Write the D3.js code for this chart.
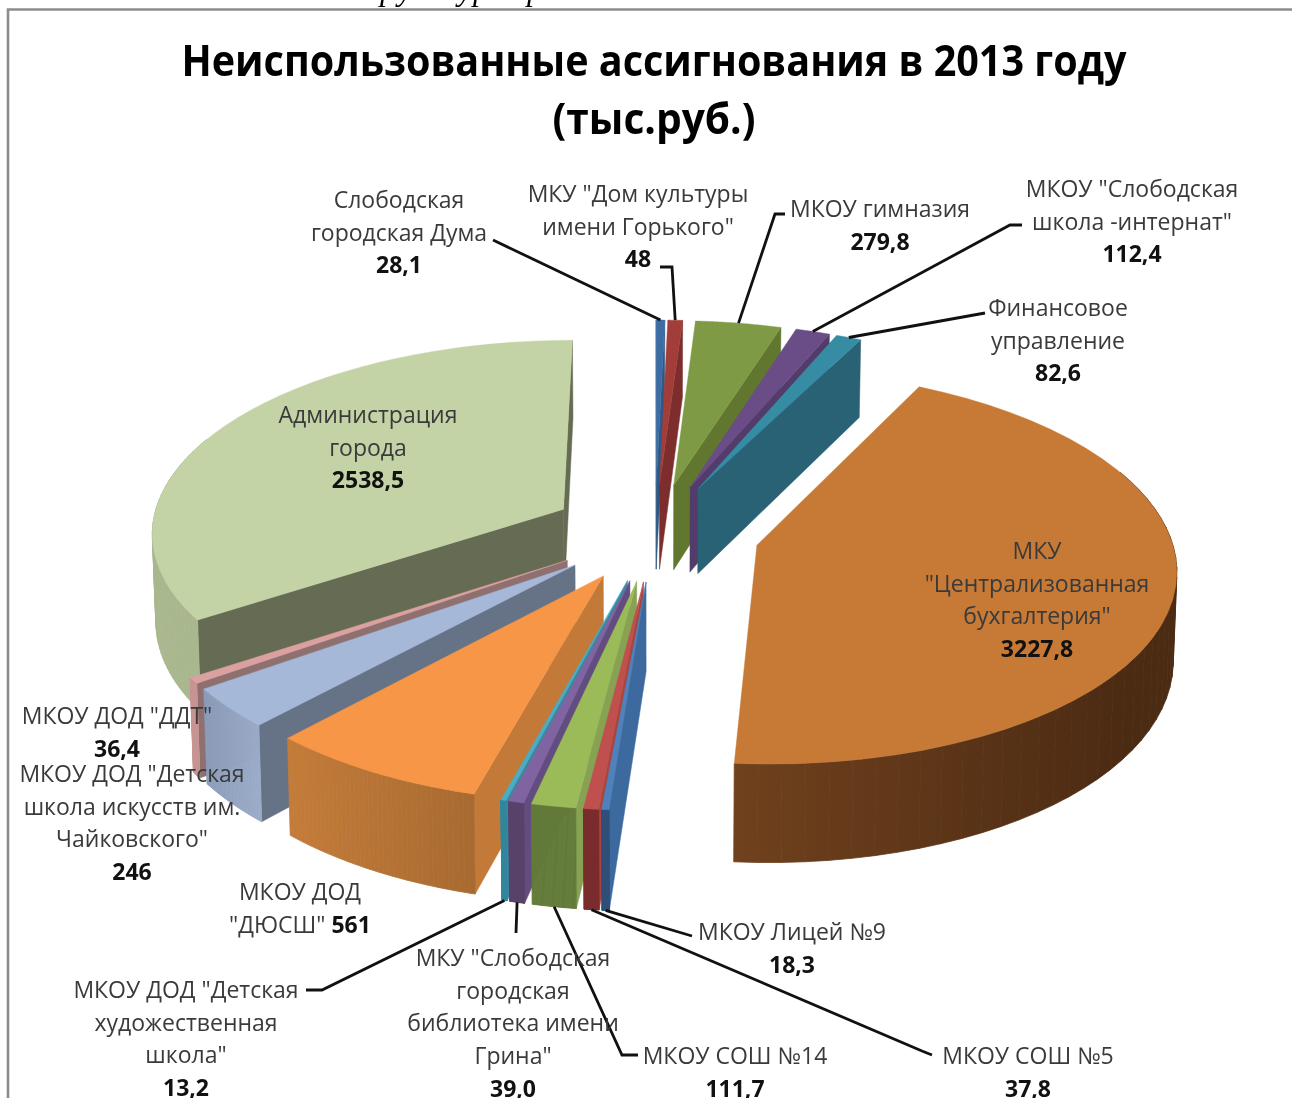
<!DOCTYPE html>
<html>
<head>
<meta charset="utf-8">
<script src="https://cdn.jsdelivr.net/npm/d3@7"></script>
<style>
  html, body { margin: 0; padding: 0; background: #fff; }
  svg { display: block; filter: blur(0.6px); }
  text { font-family: "Open Sans", sans-serif; }
</style>
</head>
<body>
<svg id="chart" width="1292" height="1098"></svg>
<script>
// *** Data ***

var titleLines = ["Неиспользованные ассигнования в 2013 году", "(тыс.руб.)"];
var titleWidths = [945, 203];

var nameLines = [
  ["Слободская", "городская Дума"],
  ["МКУ \"Дом культуры", "имени Горького\""],
  ["МКОУ гимназия"],
  ["МКОУ \"Слободская", "школа -интернат\""],
  ["Финансовое", "управление"],
  ["МКУ", "\"Централизованная", "бухгалтерия\""],
  ["МКОУ Лицей №9"],
  ["МКОУ СОШ №5"],
  ["МКОУ СОШ №14"],
  ["МКУ \"Слободская", "городская", "библиотека имени", "Грина\""],
  ["МКОУ ДОД \"Детская", "художественная", "школа\""],
  ["МКОУ ДОД", "\"ДЮСШ\""],
  ["МКОУ ДОД \"Детская", "школа искусств им.", "Чайковского\""],
  ["МКОУ ДОД \"ДДТ\""],
  ["Администрация", "города"]
];
var values = [28.1, 48, 279.8, 112.4, 82.6, 3227.8, 18.3, 37.8, 111.7, 39.0, 13.2, 561, 246, 36.4, 2538.5];
var valueLabels = ["28,1", "48", "279,8", "112,4", "82,6", "3227,8", "18,3", "37,8", "111,7", "39,0", "13,2", "561", "246", "36,4", "2538,5"];

// *** Styles: top face, radial face, outer wall from / to ***

var topColors = ["#3c6ca3", "#a23d3a", "#7f9a44", "#6a4d86", "#358ca3", "#c67a36", "#4f81bd", "#c0504d", "#9bbb59", "#8064a2", "#4bacc6", "#f79646", "#a6b8d8", "#dba0a0", "#c3d3a6"];
var faceColors = ["#2f5884", "#7d2e2c", "#61772f", "#533c6b", "#2a6275", "#8a5526", "#3d6a9e", "#a9443f", "#87a253", "#634d80", "#37899f", "#c37a38", "#667386", "#8f7070", "#666c53"];
var wallFrom = ["#2f5884", "#7d2e2c", "#61772f", "#533c6b", "#2a6275", "#4c2b13", "#2f4f78", "#7a2b2c", "#627a38", "#584269", "#30869c", "#a86a30", "#9aabc8", "#c79393", "#a9b78f"];
var wallTo = ["#2f5884", "#7d2e2c", "#61772f", "#533c6b", "#2a6275", "#70411d", "#2f4f78", "#7a2b2c", "#627a38", "#584269", "#30869c", "#c47c3a", "#8a9bb8", "#c79393", "#a9b78f"];

// *** Label layout: centre x, first baseline y, leader path from the label ***

var labelX = [399, 638, 880, 1132, 1058, 1037, 792, 1028, 735, 513, 186, 300, 132, 117, 368];
var labelY = [208, 202, 217, 197, 316, 559, 940, 1064, 1064, 966, 998, 900, 782, 724, 423];
var leaderStart = [
  [[493, 240]],
  [[660, 267], [672, 267]],
  [[785, 214], [775, 214]],
  [[1022, 225], [1010, 225]],
  [[985, 313]],
  null,
  [[692, 936]],
  [[932, 1055], [922, 1051]],
  [[638, 1055], [622, 1055]],
  [[516, 933]],
  [[306, 990], [322, 990]],
  null, null, null, null
];
var lineStep = 32.7;

// *** Pie geometry ***

var cx = 655, cy = 532;      // pie axis on screen
var radius = 413, explode = 105;
var tilt = 0.465, eyeDist = 3800, depth = 87;

var svg = d3.select("#chart");
var defs = svg.append("defs");

function project(X, Y, h) {
  var f = eyeDist / (eyeDist - Y);
  var s = 1 - h * 0.00008;
  return [cx + X * f * s, cy + Y * tilt * f + h * f];
}

// a is clockwise from north, r from the slice's own apex, mid is the slice bisector
function slicePoint(d, a, r, h) {
  var mid = (d.startAngle + d.endAngle) / 2;
  return project(r * Math.sin(a) + explode * Math.sin(mid), -r * Math.cos(a) - explode * Math.cos(mid), h);
}

var pie = d3.pie().sort(null).startAngle(0).endAngle(2 * Math.PI);
var slices = pie(values).map(function (d, i) { d.index = i; return d; });

var lineMaker = d3.line();
var toPath = function (pts) { return lineMaker(pts) + "Z"; };

// far slices first, so that near ones cover them
var drawOrder = slices.slice().sort(function (p, q) {
  return Math.cos((q.startAngle + q.endAngle) / 2) - Math.cos((p.startAngle + p.endAngle) / 2);
});

var pieG = svg.append("g");

function rimPoints(d, from, to, h) {
  return d3.range(0, 41).map(function (k) {
    return slicePoint(d, from + (to - from) * k / 40, radius, h);
  });
}

drawOrder.forEach(function (d) {
  var i = d.index;
  var g = pieG.append("g");

  // radial faces, only those turned to the viewer
  [[d.startAngle, 1], [d.endAngle, -1]].forEach(function (edge) {
    var quad = [slicePoint(d, 0, 0, 0), slicePoint(d, edge[0], radius, 0),
                slicePoint(d, edge[0], radius, depth), slicePoint(d, 0, 0, depth)];
    if (d3.polygonArea(quad) * edge[1] > 0) {
      g.append("path").attr("d", toPath(quad))
        .attr("fill", faceColors[i]).attr("stroke", faceColors[i]).attr("stroke-width", 0.5);
    }
  });

  // outer wall in strips: the near half of the rim and a bit past it, the top face hides the extra
  // (strips and not one outline, the rim doubles back on itself at the silhouette)
  var visFrom = Math.max(d.startAngle, Math.PI / 2 - 0.4);
  var visTo = Math.min(d.endAngle, 3 * Math.PI / 2 + 0.4);
  if (visTo > visFrom) {
    var upper = rimPoints(d, visFrom, visTo, 0);
    var lower = rimPoints(d, visFrom, visTo, depth);
    var grad = defs.append("linearGradient").attr("id", "wall" + i)
      .attr("gradientUnits", "userSpaceOnUse")
      .attr("x1", upper[0][0]).attr("x2", upper[40][0]).attr("y1", 0).attr("y2", 0);
    grad.append("stop").attr("offset", 0).attr("stop-color", wallFrom[i]);
    grad.append("stop").attr("offset", 1).attr("stop-color", wallTo[i]);
    d3.range(40).forEach(function (k) {
      g.append("path").attr("d", toPath([upper[k], upper[k + 1], lower[k + 1], lower[k]]))
        .attr("fill", "url(#wall" + i + ")")
        .attr("stroke", "url(#wall" + i + ")").attr("stroke-width", 0.8);
    });
  }

  // top face
  g.append("path").attr("d", toPath([slicePoint(d, 0, 0, 0)].concat(rimPoints(d, d.startAngle, d.endAngle, 0))))
    .attr("fill", topColors[i]).attr("stroke", topColors[i]).attr("stroke-width", 0.4);
});

// *** Leader lines ***

svg.append("g").selectAll("path")
  .data(slices.filter(function (d) { return leaderStart[d.index]; }))
  .enter().append("path")
  .attr("fill", "none").attr("stroke", "#111").attr("stroke-width", 2.8)
  .attr("d", function (d) {
    var mid = (d.startAngle + d.endAngle) / 2;
    var front = Math.cos(mid) < 0;
    return lineMaker(leaderStart[d.index].concat([slicePoint(d, mid, radius, front ? depth : 0)]));
  });

// *** Labels ***

var labels = svg.append("g").attr("text-anchor", "middle").attr("font-size", 23);
slices.forEach(function (d) {
  var i = d.index;
  var lines = nameLines[i];
  lines.forEach(function (line, k) {
    var t = labels.append("text")
      .attr("x", labelX[i]).attr("y", labelY[i] + k * lineStep)
      .attr("fill", "#3a3a3a").text(line);
    // the ДЮСШ value stays on the last name line
    if (i === 11 && k === lines.length - 1) {
      t.append("tspan").attr("font-weight", "bold").attr("fill", "#111").text(" " + valueLabels[i]);
    }
  });
  if (i !== 11) {
    labels.append("text")
      .attr("x", labelX[i]).attr("y", labelY[i] + lines.length * lineStep)
      .attr("font-weight", "bold").attr("fill", "#111").text(valueLabels[i]);
  }
});

// *** Title ***

svg.append("g").attr("text-anchor", "middle").selectAll("text")
  .data(titleLines).enter().append("text")
  .attr("x", 654).attr("y", function (d, i) { return 76 + i * 58; })
  .attr("font-size", 43).attr("font-weight", "bold").attr("fill", "#000")
  .attr("textLength", function (d, i) { return titleWidths[i]; })
  .attr("lengthAdjust", "spacingAndGlyphs")
  .text(function (d) { return d; });

// *** Frame and the cut-off line of the page above it ***

svg.append("text").attr("x", "380 398 458 473 527").attr("y", 0)
  .style("font-family", "'Liberation Serif', serif").attr("font-style", "italic").attr("font-size", 32)
  .text("руурр");
svg.append("path").attr("d", "M1292,9.5H8V1098").attr("fill", "none").attr("stroke", "#8c8c8c").attr("stroke-width", 2.6);
</script>
</body>
</html>
